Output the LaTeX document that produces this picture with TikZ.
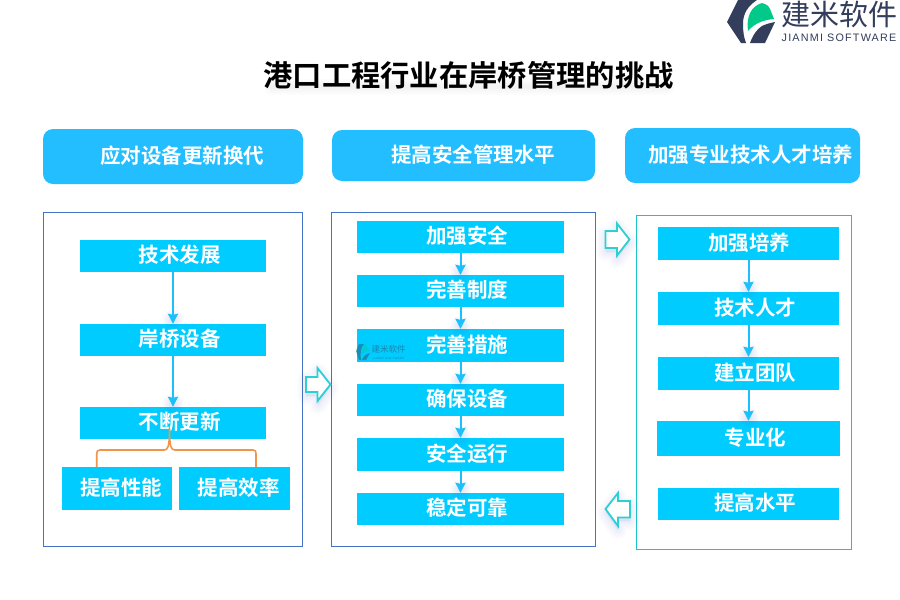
\documentclass[tikz,border=0pt]{standalone}
\usepackage{fontspec}
\setmainfont{Noto Sans CJK SC}[BoldFont={Noto Sans CJK SC Bold}]
\newfontfamily\latinfont[LetterSpace=11]{Liberation Sans}
\usetikzlibrary{arrows.meta}
\definecolor{headblue}{HTML}{22BEFF}
\definecolor{boxblue}{HTML}{00CCFF}
\definecolor{panelblue}{HTML}{4472C4}
\definecolor{panelteal}{HTML}{19C5C8}
\definecolor{linkblue}{HTML}{1CC0FA}
\definecolor{bracecol}{HTML}{F0954A}
\definecolor{logodark}{HTML}{333D5C}
\definecolor{logogreen}{HTML}{00C98A}
\definecolor{arrowteal}{HTML}{2AD0D4}
\definecolor{glowblue}{HTML}{5070D0}
\tikzset{
  x=1pt,y=-1pt,
  headbox/.style={fill=headblue,rounded corners=10pt,text=white,font=\bfseries\fontsize{20.5pt}{24pt}\selectfont,inner sep=0pt},
  itembox/.style={fill=boxblue,text=white,font=\bfseries\fontsize{20.5pt}{24pt}\selectfont,inner sep=0pt},
  panelbox/.style={draw=#1,line width=1pt,fill=white},
  link/.style={draw=linkblue,line width=2pt,-{Stealth[length=10pt,width=10pt,inset=1pt]}},
  flowarrow/.style={draw=arrowteal,line width=1.8pt,fill=white,line join=miter},
}
\newcommand{\itemnode}[7]{%
  \pgfmathsetlengthmacro{\bw}{(#4-#2)*1pt}\pgfmathsetlengthmacro{\bh}{(#5-#3)*1pt}%
  \pgfmathsetlengthmacro{\bo}{2*#6*1pt}%
  \node[itembox,minimum width=\bw,minimum height=\bh] (#1) at ({(#2+#4)/2},{(#3+#5)/2}) {\hspace*{\bo}\raisebox{1pt}[\height][\depth]{#7}};}
\newcommand{\headnode}[7]{%
  \pgfmathsetlengthmacro{\bw}{(#4-#2)*1pt}\pgfmathsetlengthmacro{\bh}{(#5-#3)*1pt}%
  \pgfmathsetlengthmacro{\bo}{2*#6*1pt}%
  \node[headbox,minimum width=\bw,minimum height=\bh] (#1) at ({(#2+#4)/2},{(#3+#5)/2}) {\hspace*{\bo}\raisebox{1pt}[\height][\depth]{#7}};}
\newcommand{\glowat}[2]{%
  \foreach \r in {2,4,6,8,10}{\fill[glowblue,opacity=.035] (#1,#2) circle (\r);}}
\newcommand{\pathglow}[1]{%
  \foreach \w in {3,6,9,12,15,18}{\draw[glowblue,opacity=.014,line width=\w,line join=round,fill=glowblue,fill opacity=.014] #1;}}
\begin{document}
\begin{tikzpicture}
\useasboundingbox (0,0) rectangle (900,600);
\fill[white] (0,0) rectangle (900,600);
% logo
\fill[logodark] (727,22) -- (738,0) -- (757,0) .. controls (748,6) and (743,13) .. (743,24) .. controls (743,32) and (744,38) .. (746,43) -- (741,43) -- cycle;
\fill[logodark] (750,43) .. controls (753,35) and (757,29) .. (762,26) .. controls (766,24) and (770,23) .. (775,22) -- (765,43) -- cycle;
\fill[logogreen] (748,31) .. controls (746,17) and (751,6) .. (762,3) .. controls (766,4) and (769,6) .. (770,9) -- (774,19) .. controls (762,20) and (754,24) .. (748,31) -- cycle;
\node[text=logodark,inner sep=0pt,font=\fontsize{29pt}{32pt}\selectfont] (logocn) at (839.5,14) {建米软件};
\node[text=logodark,inner sep=0pt,font=\latinfont\fontsize{10.8pt}{12pt}\selectfont] (logoen) at (839,38) {JIANMI SOFTWARE};
% title
\foreach \w in {4,8,12,16}{\draw[gray,opacity=.018,line width=\w,line cap=round] (272,87) -- (666,87);}
\node[inner sep=0pt,font=\bfseries\fontsize{29.3pt}{32pt}\selectfont] (title) at (468.5,75) {港口工程行业在岸桥管理的挑战};
% headers
\headnode{h1}{43}{129}{303}{184}{9}{应对设备更新换代}
\headnode{h2}{332}{130}{595}{181}{9.5}{提高安全管理水平}
\headnode{h3}{625}{128}{860}{183}{8}{加强专业技术人才培养}
% panels
\draw[panelbox=panelblue] (43.5,212.5) rectangle (302.5,546.5);
\draw[panelbox=panelblue] (331.5,212.5) rectangle (595.5,546.5);
\draw[panelbox=panelteal] (636.5,215.5) rectangle (851.5,549.5);
% left
\itemnode{a1}{80}{240}{266}{272}{6.5}{技术发展}
\itemnode{a2}{80}{324}{266}{356}{6.5}{岸桥设备}
\itemnode{a3}{80}{407}{266}{439}{6.5}{不断更新}
\itemnode{a4}{62}{467}{172}{510}{4}{提高性能}
\itemnode{a5}{179}{467}{290}{510}{4}{提高效率}
\glowat{173}{404}
\glowat{173}{320}
\draw[link] (a1) -- (a2);
\draw[link] (a2) -- (a3);
% brace
\coordinate (bl) at (96.7,467); \coordinate (br) at (256,467); \coordinate (bt) at (169.5,428);
\draw[bracecol,line width=1.6pt,line join=round]
  (bl) -- (96.7,454) .. controls (96.7,451) and (97.5,450) .. (100,450)
  -- (164,450) .. controls (168,450) and (169.5,447) .. (bt)
  .. controls (169.5,447) and (171,450) .. (175,450)
  -- (253,450) .. controls (255.5,450) and (256,451) .. (256,454) -- (br);
% middle
\itemnode{b1}{357}{221}{564}{253}{6.5}{加强安全}
\itemnode{b2}{357}{275}{564}{307}{6.5}{完善制度}
\itemnode{b3}{357}{329}{564}{362}{6.5}{完善措施}
\itemnode{b4}{357}{384}{564}{416}{6.5}{确保设备}
\itemnode{b5}{357}{438}{564}{471}{6.5}{安全运行}
\itemnode{b6}{357}{493}{564}{525}{6.5}{稳定可靠}
\foreach \ty in {272,326,381,435,490}{\glowat{460.5}{\ty}}
\foreach \p/\q in {b1/b2,b2/b3,b3/b4,b4/b5,b5/b6}{\draw[link] (\p) -- (\q);}
% watermark
\begin{scope}[opacity=.7]
\fill[logodark!60!boxblue] (356,351) -- (359,344) -- (364,344) .. controls (361,347) and (360,352) .. (361,360) -- (359,360) -- cycle;
\fill[logodark!60!boxblue] (362,360) .. controls (363,356) and (366,354) .. (370,353) -- (366,360) -- cycle;
\fill[logogreen!50!boxblue] (362,354) .. controls (361,349) and (363,345) .. (366,344) -- (370,351) .. controls (366,351) and (364,352) .. (362,354) -- cycle;
\node[text=logodark!70!boxblue,inner sep=0pt,font=\fontsize{8.5pt}{10pt}\selectfont] (wmcn) at (388.5,349.5) {建米软件};
\node[text=logodark!70!boxblue,inner sep=0pt,font=\latinfont\fontsize{3pt}{4pt}\selectfont] (wmen) at (388.5,358) {JIANMI SOFTWARE};
\end{scope}
% right
\itemnode{c1}{658}{227}{839}{260}{0.5}{加强培养}
\itemnode{c2}{658}{292}{839}{325}{6.5}{技术人才}
\itemnode{c3}{658}{357}{839}{390}{6.5}{建立团队}
\itemnode{c4}{657}{421}{840}{456}{7}{专业化}
\itemnode{c5}{658}{488}{839}{520}{6.5}{提高水平}
\foreach \ty in {289,354,418}{\glowat{748.5}{\ty}}
\foreach \p/\q in {c1/c2,c2/c3,c3/c4}{\draw[link] (\p) -- (\q);}
% block arrows
\pathglow{(306,380) -- (318,380) -- (318,372) -- (330,388) -- (318,405) -- (318,396) -- (306,396) -- cycle}
\pathglow{(605.5,235) -- (617,235) -- (617,227) -- (629.5,243) -- (617,259) -- (617,252) -- (605.5,252) -- cycle}
\pathglow{(630,505) -- (618,505) -- (618,497) -- (605.5,513) -- (618,530) -- (618,521) -- (630,521) -- cycle}
\draw[flowarrow] (306,377) -- (317.5,377) -- (317.5,368) -- (330.5,384.5) -- (317.5,401) -- (317.5,392) -- (306,392) -- cycle;
\draw[flowarrow] (605.5,231) -- (617,231) -- (617,223.5) -- (629.5,239.5) -- (617,255.5) -- (617,248) -- (605.5,248) -- cycle;
\draw[flowarrow] (630,501) -- (618,501) -- (618,493) -- (605.5,509) -- (618,526) -- (618,517.5) -- (630,517.5) -- cycle;
\end{tikzpicture}
\end{document}
